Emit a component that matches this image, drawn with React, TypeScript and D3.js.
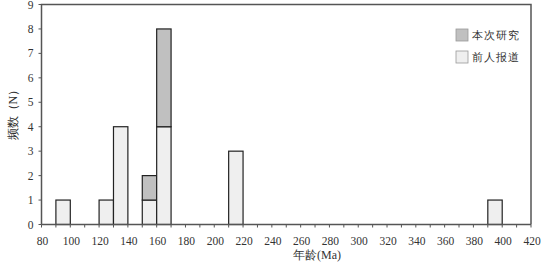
import React from "react";
import * as d3 from "d3";

const binStarts = [90, 120, 130, 150, 160, 210, 390];
const previous = [1, 1, 4, 1, 4, 3, 1];
const thisStudy = [0, 0, 0, 1, 4, 0, 0];
const xTicks = d3.range(80, 421, 20);
const yTicks = d3.range(0, 10, 1);
const seriesNames = ["本次研究", "前人报道"];
const seriesColors = ["#c0c0c0", "#efefef"];

export default function App() {
  const W = 549, H = 263;
  const left = 41.5, right = 531, top = 4.5, bottom = 224.5;
  const x = d3.scaleLinear().domain([80, 420]).range([left, right]);
  const y = d3.scaleLinear().domain([0, 9]).range([bottom, top]);
  const font = "Liberation Serif, serif";
  const minor = d3.range(80, 421, 10);
  return (
    <svg width={W} height={H} style={{ position: "absolute", left: 0, top: 0, fontFamily: font }}>
      <rect x={0} y={0} width={W} height={H} fill="#fff" />
      {binStarts.map((b, i) => (
        <g key={i}>
          <rect x={x(b)} y={y(previous[i])} width={x(b + 10) - x(b)} height={y(0) - y(previous[i])}
            fill={seriesColors[1]} stroke="#222" strokeWidth={1.2} />
          {thisStudy[i] > 0 && (
            <rect x={x(b)} y={y(previous[i] + thisStudy[i])} width={x(b + 10) - x(b)}
              height={y(previous[i]) - y(previous[i] + thisStudy[i])}
              fill={seriesColors[0]} stroke="#222" strokeWidth={1.2} />
          )}
        </g>
      ))}
      <path d={`M${left},${bottom} V${top} H${right} V${bottom}`} fill="none" stroke="#555" strokeWidth={1.5} />
      <line x1={left} x2={right} y1={bottom} y2={bottom} stroke="#555" strokeWidth={1.5} />
      {minor.map((t) => (
        <line key={t} x1={x(t)} x2={x(t)} y1={bottom} y2={bottom + 3} stroke="#555" strokeWidth={1} />
      ))}
      {xTicks.map((t) => (
        <text key={t} x={x(t) + 1} y={244.5} textAnchor="middle" style={{ fontFamily: font }} fontSize={11.5} fill="#333">{t}</text>
      ))}
      {yTicks.map((t) => (
        <g key={t}>
          <line x1={left - 3} x2={left} y1={y(t)} y2={y(t)} stroke="#555" strokeWidth={1} />
          <text x={left - 8} y={y(t) + 4} textAnchor="end" style={{ fontFamily: font }} fontSize={11.5} fill="#333">{t}</text>
        </g>
      ))}
      <text x={317} y={258.5} textAnchor="middle" style={{ fontFamily: font }} fontSize={12} fill="#333">年龄(Ma)</text>
      <text transform={`translate(17,${y(4.6)}) rotate(-90)`} textAnchor="middle" style={{ fontFamily: font }} fontSize={12} fill="#333">频数（N）</text>
      {seriesNames.map((n, i) => (
        <g key={n} transform={`translate(456,${29 + i * 22})`}>
          <rect x={0} y={0} width={12} height={12} fill={seriesColors[i]} stroke="#999" strokeWidth={0.8} />
          <text x={16} y={10} style={{ fontFamily: font }} fontSize={10.5} fill="#333" letterSpacing={1}>{n}</text>
        </g>
      ))}
    </svg>
  );
}
